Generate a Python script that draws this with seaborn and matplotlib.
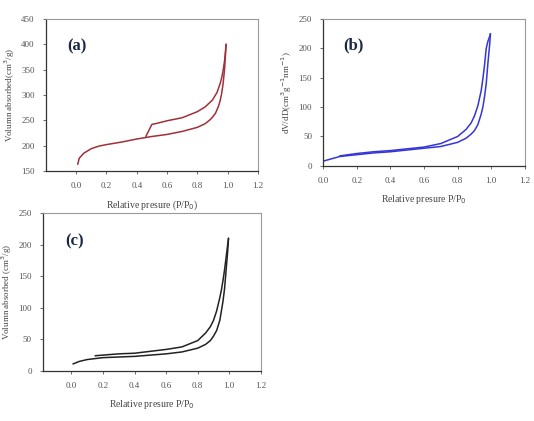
import numpy as np
import pandas as pd
import matplotlib
matplotlib.use("Agg")
import matplotlib.pyplot as plt
import seaborn as sns

# (a) isotherm
a_ads_x = [0.01, 0.02, 0.05, 0.1, 0.15, 0.2, 0.3, 0.4, 0.46, 0.5, 0.6, 0.7, 0.8, 0.85, 0.88, 0.9, 0.92, 0.94, 0.95, 0.96, 0.97, 0.98, 0.99]
a_ads_y = [163, 175, 185, 194, 199, 202, 207, 213, 216, 218, 222, 228, 236, 243, 250, 256, 264, 278, 288, 302, 322, 352, 400]
a_des_x = [0.99, 0.98, 0.97, 0.96, 0.95, 0.93, 0.9, 0.85, 0.8, 0.7, 0.6, 0.52, 0.5, 0.48, 0.46]
a_des_y = [400, 368, 348, 333, 322, 305, 290, 276, 267, 255, 249, 243, 242, 230, 218]

# (b) isotherm
b_ads_x = [0.0, 0.05, 0.1, 0.2, 0.3, 0.4, 0.5, 0.6, 0.7, 0.8, 0.85, 0.88, 0.9, 0.92, 0.94, 0.95, 0.96, 0.97, 0.98, 0.99, 0.995]
b_ads_y = [8, 12, 16, 19, 22, 24, 27, 30, 33, 40, 47, 54, 60, 70, 88, 100, 118, 140, 175, 205, 225]
b_des_x = [0.995, 0.99, 0.98, 0.97, 0.96, 0.95, 0.94, 0.92, 0.9, 0.88, 0.85, 0.8, 0.7, 0.6, 0.5, 0.4, 0.3, 0.2, 0.1]
b_des_y = [225, 220, 212, 200, 172, 148, 128, 102, 85, 73, 62, 50, 38, 32, 29, 26, 24, 21, 17]

# (c) isotherm
c_ads_x = [0.01, 0.05, 0.1, 0.2, 0.3, 0.4, 0.5, 0.6, 0.7, 0.8, 0.85, 0.88, 0.9, 0.92, 0.94, 0.95, 0.96, 0.97, 0.98, 0.99, 0.995]
c_ads_y = [11, 15, 18, 21, 22, 23, 25, 27, 30, 36, 42, 48, 55, 64, 80, 95, 110, 130, 160, 190, 210]
c_des_x = [0.995, 0.99, 0.98, 0.97, 0.96, 0.95, 0.94, 0.92, 0.9, 0.88, 0.85, 0.8, 0.7, 0.6, 0.5, 0.4, 0.3, 0.2, 0.15]
c_des_y = [210, 200, 180, 160, 143, 128, 116, 95, 80, 70, 60, 48, 38, 34, 31, 28, 27, 25, 24]

x_ticks = [0.0, 0.2, 0.4, 0.6, 0.8, 1.0, 1.2]

sns.set_style("ticks")
plt.rcParams['font.family'] = ['Liberation Serif', 'DejaVu Serif']

fig = plt.figure(figsize=(5.34, 4.21), dpi=100)

paneles = [
    dict(pos=[0.086, 0.594, 0.397, 0.361], ads=(a_ads_x, a_ads_y), des=(a_des_x, a_des_y),
         color='#a0303a', xlim=(-0.2, 1.2), ylim=(150, 450), yticks=range(150, 451, 50),
         ylabel='Volumn absorbed(cm$^3$/g)', xlabel='Relative presure (P/P$_0$)', tag='(a)'),
    dict(pos=[0.605, 0.606, 0.378, 0.349], ads=(b_ads_x, b_ads_y), des=(b_des_x, b_des_y),
         color='#3535d8', xlim=(0.0, 1.2), ylim=(0, 250), yticks=range(0, 251, 50),
         ylabel='dV/dD(cm$^3$g$^{-1}$nm$^{-1}$)', xlabel='Relative presure P/P$_0$', tag='(b)'),
    dict(pos=[0.0805, 0.119, 0.408, 0.375], ads=(c_ads_x, c_ads_y), des=(c_des_x, c_des_y),
         color='#222222', xlim=(-0.18, 1.2), ylim=(0, 250), yticks=range(0, 251, 50),
         ylabel='Volumn absorbed (cm$^3$/g)', xlabel='Relative presure P/P$_0$', tag='(c)'),
]

for p in paneles:
    ax = fig.add_axes(p['pos'])
    df = pd.concat([
        pd.DataFrame({'x': p['ads'][0], 'y': p['ads'][1], 'rama': 'ads'}),
        pd.DataFrame({'x': p['des'][0], 'y': p['des'][1], 'rama': 'des'}),
    ], ignore_index=True)
    sns.lineplot(data=df, x='x', y='y', units='rama', estimator=None, sort=False,
                 color=p['color'], lw=1.1, ax=ax)
    ax.set_xlim(*p['xlim'])
    ax.set_ylim(*p['ylim'])
    ax.set_xticks(x_ticks)
    ax.set_xticklabels([f"{t:.1f}" for t in x_ticks])
    ax.set_yticks(list(p['yticks']))
    ax.tick_params(labelsize=6.5, colors='#555555', length=2, width=0.6, pad=6)
    ax.set_xlabel(p['xlabel'], fontsize=7, color='#444444', labelpad=6)
    ax.set_ylabel(p['ylabel'], fontsize=6.5, color='#444444', labelpad=3)
    for s in ['top', 'right']:
        ax.spines[s].set_color('#999999')
        ax.spines[s].set_linewidth(0.8)
    for s in ['left', 'bottom']:
        ax.spines[s].set_color('#333333')
        ax.spines[s].set_linewidth(0.9)
    ax.text(0.10, 0.82, p['tag'], transform=ax.transAxes, fontsize=12, fontweight='bold',
            color='#1c2746', va='center', ha='left')

fig.savefig('out.png', dpi=100)
